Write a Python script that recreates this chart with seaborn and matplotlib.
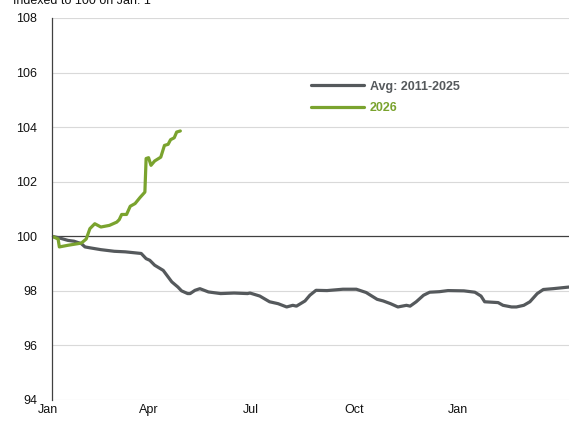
import numpy as np
import pandas as pd
import matplotlib
matplotlib.use("Agg")
import matplotlib.pyplot as plt
import matplotlib.dates as mdates
import matplotlib.transforms as mtransforms
import seaborn as sns

# ---- data (day offsets from Jan 1, index values) ----
avg_days = [0, 6, 13, 18, 24, 27, 32, 40, 51, 60, 73, 77, 80, 84, 91, 93, 98, 103, 106, 111,
            113, 117, 121, 128, 138, 149, 160, 162, 170, 178, 185, 192, 197, 200, 207, 211,
            216, 225, 238, 249, 257, 266, 271, 277, 283, 290, 293, 298, 304, 309, 317, 324,
            337, 346, 351, 354, 365, 369, 376, 380, 386, 391, 397, 402, 410, 423]
avg_vals = [100.0, 99.94, 99.85, 99.82, 99.73, 99.61, 99.57, 99.51, 99.45, 99.43, 99.37, 99.18,
            99.12, 98.94, 98.75, 98.63, 98.33, 98.14, 98.0, 97.9, 97.9, 98.02, 98.08, 97.96,
            97.9, 97.92, 97.9, 97.92, 97.81, 97.6, 97.53, 97.41, 97.47, 97.44, 97.63, 97.84,
            98.02, 98.01, 98.06, 98.06, 97.94, 97.69, 97.63, 97.53, 97.41, 97.47, 97.44, 97.6,
            97.84, 97.95, 97.97, 98.01, 98.0, 97.95, 97.81, 97.6, 97.57, 97.47, 97.41, 97.41,
            97.47, 97.6, 97.9, 98.05, 98.08, 98.14]

cur_days = [0, 5, 6, 13, 24, 28, 31, 35, 40, 47, 53, 55, 57, 61, 64, 68, 72, 76, 77, 79, 81,
            84, 89, 92, 95, 97, 100, 102, 105]
cur_vals = [100.0, 99.9, 99.61, 99.67, 99.75, 99.9, 100.28, 100.46, 100.34, 100.4, 100.52,
            100.61, 100.8, 100.8, 101.1, 101.2, 101.42, 101.62, 102.85, 102.88, 102.6, 102.76,
            102.9, 103.33, 103.37, 103.54, 103.61, 103.82, 103.86]

series_names = ["Avg: 2011-2025", "2026"]
y_ticks = [94, 96, 98, 100, 102, 104, 106, 108]
title_text = "Indexed to 100 on Jan. 1"

start = pd.Timestamp("2026-01-01")
df = pd.concat([
    pd.DataFrame({"date": start + pd.to_timedelta(avg_days, unit="D"), "value": avg_vals,
                  "series": series_names[0]}),
    pd.DataFrame({"date": start + pd.to_timedelta(cur_days, unit="D"), "value": cur_vals,
                  "series": series_names[1]}),
])

GRAY = "#55595c"
GREEN = "#7aa32e"

sns.set_theme(style="white")
plt.rcParams["font.family"] = ["Liberation Sans", "DejaVu Sans"]

fig = plt.figure(figsize=(5.69, 4.22), dpi=100)
ax = fig.add_axes([52 / 569, 1 - 400 / 422, 517 / 569, 382 / 422])

sns.lineplot(data=df, x="date", y="value", hue="series",
             palette={series_names[0]: GRAY, series_names[1]: GREEN},
             linewidth=2.3, ax=ax, legend=False, estimator=None, sort=False)

ax.set_ylim(y_ticks[0], y_ticks[-1])
ax.set_yticks(y_ticks)
ax.set_xlim(start, pd.Timestamp("2027-02-28"))
ax.set_xlabel("")
ax.set_ylabel("")

# grid
for yv in y_ticks:
    if yv != 100:
        ax.axhline(yv, color="#d9d9d9", linewidth=0.8, zorder=0)

for s in ["top", "right"]:
    ax.spines[s].set_visible(False)
ax.spines["left"].set_color("#404040")
ax.spines["left"].set_linewidth(0.9)
ax.spines["bottom"].set_position(("data", 100))
ax.spines["bottom"].set_color("#404040")
ax.spines["bottom"].set_linewidth(0.9)
ax.spines["bottom"].set_zorder(1)

ax.tick_params(axis="y", length=0, pad=10.5, labelsize=9, labelcolor="#111111")
ax.xaxis.set_major_locator(mdates.MonthLocator(bymonth=[1, 4, 7, 10]))
ax.tick_params(axis="x", direction="out", length=3, width=0.9, color="#404040",
               labelbottom=False)

# x tick labels at bottom
fmt = mdates.DateFormatter("%b")
blend = mtransforms.blended_transform_factory(ax.transData, ax.transAxes)
for i, loc in enumerate(ax.get_xticks()):
    off = mtransforms.ScaledTranslation((-4 - 9 * i) / 100, -4 / 100, fig.dpi_scale_trans)
    ax.text(loc, 0, fmt(loc), transform=blend + off, ha="center", va="top",
            fontsize=9, color="#111111")

# legend
handles = [plt.Line2D([], [], color=GRAY, linewidth=2.3),
           plt.Line2D([], [], color=GREEN, linewidth=2.3)]
leg = ax.legend(handles, series_names, loc="center left",
                bbox_to_anchor=((311 - 52) / 517, (400 - 97.5) / 382),
                frameon=False, handlelength=4.2, handletextpad=0.5,
                labelspacing=0.75, borderpad=0, borderaxespad=0,
                prop={"weight": "bold", "size": 9})
for txt, c in zip(leg.get_texts(), [GRAY, GREEN]):
    txt.set_color(c)

fig.text(13 / 569, 1 - 3.5 / 422, title_text, ha="left", va="baseline",
         fontsize=9, color="#111111")

fig.savefig("out.png", dpi=100)
